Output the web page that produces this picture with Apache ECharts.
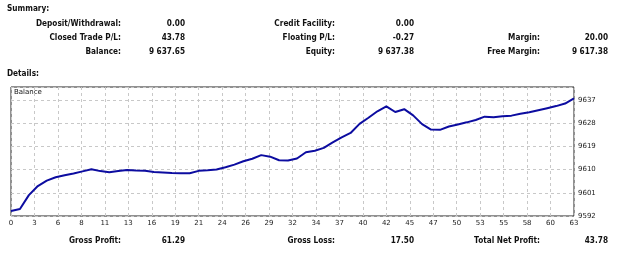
<!DOCTYPE html>
<html>
<head>
<meta charset="utf-8">
<script src="https://cdn.jsdelivr.net/npm/echarts@6/dist/echarts.min.js"></script>
<style>
  html, body { margin: 0; padding: 0; background: #fff; }
  #chart { width: 625px; height: 257px; }
</style>
</head>
<body>
<div id="chart"></div>
<script>
// balance after each trade, 0..63
const balance = [
  9593.9, 9594.7, 9600.1, 9603.6, 9605.7, 9607.0, 9607.8, 9608.5, 9609.3, 9610.1,
  9609.4, 9609.0, 9609.4, 9609.8, 9609.6, 9609.5, 9609.1, 9608.9, 9608.7, 9608.6,
  9608.6, 9609.5, 9609.7, 9610.0, 9610.9, 9611.9, 9613.2, 9614.2, 9615.6, 9615.0,
  9613.6, 9613.5, 9614.3, 9616.7, 9617.3, 9618.4, 9620.5, 9622.5, 9624.2, 9627.7,
  9630.1, 9632.6, 9634.5, 9632.3, 9633.4, 9631.0, 9627.6, 9625.5, 9625.4, 9626.7,
  9627.5, 9628.3, 9629.2, 9630.5, 9630.3, 9630.7, 9630.9, 9631.6, 9632.2, 9633.0,
  9633.8, 9634.6, 9635.6, 9637.6
]
const xTicks = ['0','3','6','8','11','13','16','19','21','24','26','29','32','34','37','40','42','45','47','50','53','55','58','60','63']
const yTicks = ['9592', '9601', '9610', '9619', '9628', '9637']
const summaryLabels = [
  ['Deposit/Withdrawal:', 'Credit Facility:', ''],
  ['Closed Trade P/L:', 'Floating P/L:', 'Margin:'],
  ['Balance:', 'Equity:', 'Free Margin:']
]
const summaryValues = [
  ['0.00', '0.00', ''],
  ['43.78', '-0.27', '20.00'],
  ['9 637.65', '9 637.38', '9 617.38']
]
const totalLabels = ['Gross Profit:', 'Gross Loss:', 'Total Net Profit:']
const totalValues = ['61.29', '17.50', '43.78']

const font = '"DejaVu Sans", sans-serif'
const axisFont = 'Tahoma, "DejaVu Sans", sans-serif'
const labelX = [121, 335, 540]
const valueX = [185, 414, 608]
const rowY = [24, 38, 52]

let texts = []
const bold = (x, y, s, align) => ({
  type: 'text', x: x, y: y, scaleX: 0.92,
  style: { text: s, fill: '#111', font: 'bold 8px ' + font, textAlign: align || 'right', textVerticalAlign: 'middle' }
})
texts.push(bold(7, 9, 'Summary:', 'left'))
texts.push(bold(7, 74, 'Details:', 'left'))
summaryLabels.forEach((row, r) => {
  row.forEach((s, c) => {
    if (s) texts.push(bold(labelX[c], rowY[r], s))
    if (summaryValues[r][c]) texts.push(bold(valueX[c], rowY[r], summaryValues[r][c]))
  })
})
totalLabels.forEach((s, c) => {
  texts.push(bold(labelX[c], 241, s))
  texts.push(bold(valueX[c], 241, totalValues[c]))
})
texts.push({
  type: 'text', x: 14, y: 92,
  style: { text: 'Balance', fill: '#111', font: '7px ' + axisFont, textVerticalAlign: 'middle' }
})

const chart = echarts.init(document.getElementById('chart'))
chart.setOption({
  animation: false,
  backgroundColor: '#fff',
  graphic: texts,
  grid: { left: 11, right: 51, top: 87, bottom: 41, show: true, borderColor: '#222', borderWidth: 1 },
  xAxis: {
    type: 'value', min: 0, max: 63, interval: 63 / 24,
    axisLine: { show: false },
    axisTick: { show: false },
    axisLabel: {
      color: '#222', fontSize: 7, fontFamily: axisFont, margin: 4,
      formatter: v => xTicks[Math.round(v / (63 / 24))]
    },
    splitLine: { show: true, lineStyle: { color: '#c8c8c8', type: [3, 3], width: 1 } }
  },
  yAxis: {
    type: 'value', position: 'right', min: 9592, max: 9642, interval: 9,
    axisLine: { show: false },
    axisTick: { show: false },
    axisLabel: {
      color: '#222', fontSize: 7, fontFamily: axisFont, margin: 4,
      formatter: v => yTicks[Math.round((v - 9592) / 9)] || ''
    },
    splitLine: { show: true, lineStyle: { color: '#c8c8c8', type: [3, 3], width: 1 } }
  },
  series: [{
    type: 'line',
    data: balance.map((v, i) => [i, v]),
    showSymbol: false,
    lineStyle: { color: '#0c0ca0', width: 2 }
  }]
})
</script>
</body>
</html>
